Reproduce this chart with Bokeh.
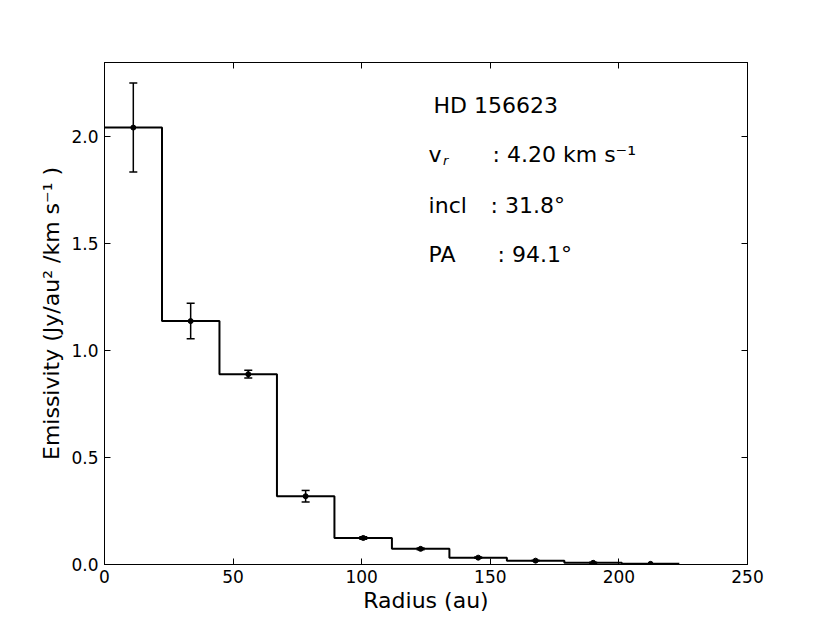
from bokeh.plotting import figure
from bokeh.models import Range1d, LinearAxis, FixedTicker, PrintfTickFormatter, Label, Whisker, TeeHead, ColumnDataSource
from bokeh.embed import file_html
from bokeh.resources import INLINE

# ---- data ----
bin_edges = [0.0, 22.35, 44.7, 67.05, 89.4, 111.75, 134.1, 156.45, 178.8, 201.15, 223.5]
bin_centers = [11.2, 33.5, 55.9, 78.2, 100.6, 122.9, 145.3, 167.6, 190.0, 212.3]
emissivity = [2.041, 1.137, 0.889, 0.319, 0.124, 0.073, 0.032, 0.018, 0.008, 0.003]
emis_err = [0.208, 0.083, 0.018, 0.027, 0.006, 0.004, 0.003, 0.002, 0.002, 0.001]
x_ticks = [0, 50, 100, 150, 200, 250]
y_ticks = [0.0, 0.5, 1.0, 1.5, 2.0]

FONT = "DejaVu Sans"

p = figure(width=814, height=615, output_backend="svg", toolbar_location=None,
           x_range=Range1d(0, 250), y_range=Range1d(0, 2.345),
           min_border_left=104, min_border_right=67, min_border_top=62, min_border_bottom=40,
           x_axis_label="Radius (au)", y_axis_label="Emissivity (Jy/au\u00b2 /km s\u207b\u00b9 )")
p.xgrid.visible = False
p.ygrid.visible = False
p.outline_line_color = "black"
p.outline_line_width = 1
p.background_fill_color = "white"
p.border_fill_color = "white"

for ax, ticks, fmt in ((p.xaxis[0], x_ticks, "%d"), (p.yaxis[0], y_ticks, "%.1f")):
    ax.ticker = FixedTicker(ticks=ticks)
    ax.formatter = PrintfTickFormatter(format=fmt)
    ax.major_tick_in = 6
    ax.major_tick_out = 0
    ax.minor_tick_line_color = None
    ax.axis_line_color = "black"
    ax.major_tick_line_color = "black"
    ax.major_label_text_font = FONT
    ax.major_label_text_font_size = "17px"
    ax.major_label_text_color = "black"
    ax.axis_label_text_font = FONT
    ax.axis_label_text_font_size = "22px"
    ax.axis_label_text_font_style = "normal"
    ax.axis_label_text_color = "black"

p.xaxis[0].major_label_standoff = 5
p.xaxis[0].axis_label_standoff = 2
p.yaxis[0].major_label_standoff = 6
p.yaxis[0].axis_label_standoff = 4

# mirrored tick-only axes on top and right (labels not drawn)
for loc, ticks in (("above", x_ticks), ("right", y_ticks)):
    ax2 = LinearAxis(ticker=FixedTicker(ticks=ticks), major_tick_in=6, major_tick_out=0,
                     minor_tick_line_color=None, major_label_text_color=None,
                     axis_line_color="black", major_tick_line_color="black")
    p.add_layout(ax2, loc)

# histogram steps
step_y = emissivity + [emissivity[-1]]
p.step(bin_edges, step_y, mode="after", line_color="black", line_width=2)

# error bars
src = ColumnDataSource(dict(
    x=bin_centers,
    lower=[v - e for v, e in zip(emissivity, emis_err)],
    upper=[v + e for v, e in zip(emissivity, emis_err)],
))
wh = Whisker(source=src, base="x", lower="lower", upper="upper", dimension="height",
             line_color="black", line_width=1.5,
             upper_head=TeeHead(size=8, line_color="black", line_width=1.5),
             lower_head=TeeHead(size=8, line_color="black", line_width=1.5))
p.add_layout(wh)
p.scatter(bin_centers, emissivity, size=5, color="black")

# annotations
def lab(x, y, t, size="22px", style="normal"):
    p.add_layout(Label(x=x, y=y, text=t, text_font=FONT, text_font_size=size,
                       text_font_style=style, text_baseline="middle", text_align="left",
                       text_color="black"))

lab(127.9, 2.145, "HD 156623")
lab(126.0, 1.915, "v")
lab(131.6, 1.887, "r", size="13px", style="italic")
lab(150.9, 1.915, ": 4.20 km s\u207b\u00b9")
lab(126.0, 1.677, "incl")
lab(150.1, 1.677, ": 31.8\u00b0")
lab(126.0, 1.447, "PA")
lab(152.8, 1.447, ": 94.1\u00b0")

open("out.html", "w").write(file_html(p, INLINE))
